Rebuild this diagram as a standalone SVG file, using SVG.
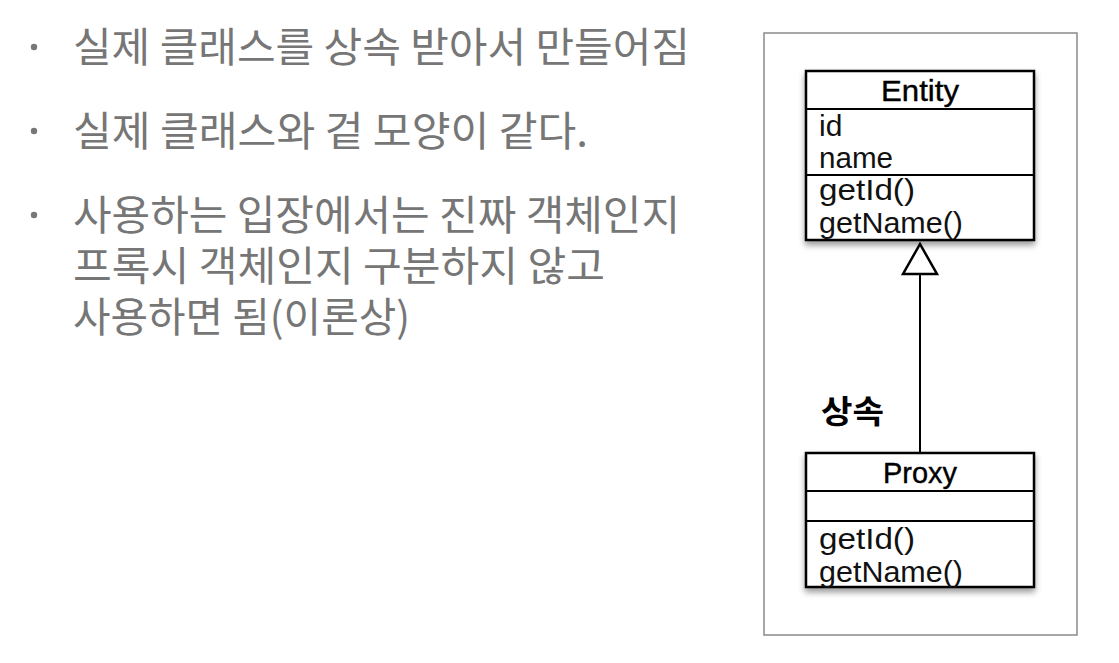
<svg xmlns="http://www.w3.org/2000/svg" width="1119" height="663" viewBox="0 0 1119 663">
  <style>
    .kr { font-family: "Noto Sans CJK KR", "Noto Sans", sans-serif; font-size: 41px; fill: #767676; }
    .box { fill: #ffffff; stroke: #000000; stroke-width: 2.5; }
    .div { stroke: #000000; stroke-width: 2; }
    .title { font-family: "Liberation Sans", Arial, sans-serif; font-size: 30px; fill: #000; stroke: #000; stroke-width: 0.4; text-anchor: middle; }
    .mem { font-family: "Liberation Sans", Arial, sans-serif; font-size: 30px; fill: #111; }
  </style>
  <defs>
    <filter id="shadow" x="-10%" y="-10%" width="120%" height="130%">
      <feGaussianBlur in="SourceAlpha" stdDeviation="3"/>
      <feOffset dx="0" dy="4" result="b"/>
      <feComponentTransfer><feFuncA type="linear" slope="0.4"/></feComponentTransfer>
      <feMerge><feMergeNode/><feMergeNode in="SourceGraphic"/></feMerge>
    </filter>
  </defs>
  <rect width="1119" height="663" fill="#ffffff"/>

  <g id="text-list">
    <circle cx="34" cy="47" r="3.2" fill="#777"/>
    <circle cx="34" cy="131" r="3.2" fill="#777"/>
    <circle cx="34" cy="215" r="3.2" fill="#777"/>
    <text class="kr" x="73" y="62" textLength="617" lengthAdjust="spacingAndGlyphs">실제 클래스를 상속 받아서 만들어짐</text>
    <text class="kr" x="73" y="146" textLength="515" lengthAdjust="spacingAndGlyphs">실제 클래스와 겉 모양이 같다.</text>
    <text class="kr" x="73" y="230" textLength="607" lengthAdjust="spacingAndGlyphs">사용하는 입장에서는 진짜 객체인지</text>
    <text class="kr" x="73" y="281" textLength="532" lengthAdjust="spacingAndGlyphs">프록시 객체인지 구분하지 않고</text>
    <text class="kr" x="73" y="332" textLength="337" lengthAdjust="spacingAndGlyphs">사용하면 됨(이론상)</text>
  </g>

  <rect id="frame" x="764" y="33" width="313" height="602" fill="#ffffff" stroke="#8a8a8a" stroke-width="1.5"/>

  <g id="connectors">
    <line x1="920" y1="274" x2="920" y2="453" stroke="#000" stroke-width="2"/>
    <polygon points="920,244 903,274 937,274" fill="#ffffff" stroke="#000" stroke-width="2.5"/>
    <text x="821" y="423" font-family="'Noto Sans CJK KR', sans-serif" font-weight="bold" font-size="32" fill="#000" textLength="63" lengthAdjust="spacingAndGlyphs">상속</text>
  </g>

  <g id="entity">
    <rect class="box" x="806" y="71" width="228" height="169" filter="url(#shadow)"/>
    <line class="div" x1="806" y1="109" x2="1034" y2="109"/>
    <line class="div" x1="806" y1="175" x2="1034" y2="175"/>
    <text class="title" x="920" y="101" textLength="78" lengthAdjust="spacingAndGlyphs">Entity</text>
    <text class="mem" x="819" y="136">id</text>
    <text class="mem" x="819" y="168" textLength="74" lengthAdjust="spacingAndGlyphs">name</text>
    <text class="mem" x="819" y="200" textLength="96" lengthAdjust="spacingAndGlyphs">getId()</text>
    <text class="mem" x="819" y="233" textLength="144" lengthAdjust="spacingAndGlyphs">getName()</text>
  </g>

  <g id="proxy">
    <rect class="box" x="806" y="453" width="228" height="134" filter="url(#shadow)"/>
    <line class="div" x1="806" y1="491" x2="1034" y2="491"/>
    <line class="div" x1="806" y1="521" x2="1034" y2="521"/>
    <text class="title" x="920" y="483" textLength="74" lengthAdjust="spacingAndGlyphs">Proxy</text>
    <text class="mem" x="819" y="549" textLength="96" lengthAdjust="spacingAndGlyphs">getId()</text>
    <text class="mem" x="819" y="582" textLength="144" lengthAdjust="spacingAndGlyphs">getName()</text>
  </g>
</svg>
